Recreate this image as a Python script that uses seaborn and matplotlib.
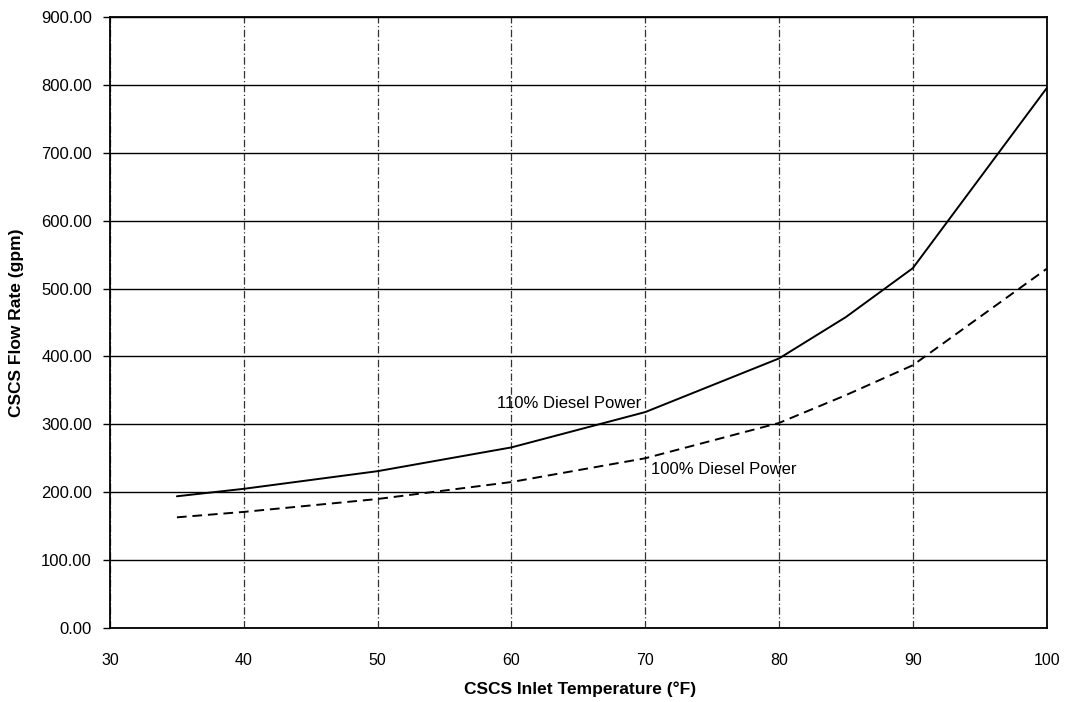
import pandas as pd
import matplotlib.pyplot as plt
import seaborn as sns

# values
temp = [35, 40, 50, 60, 70, 80, 85, 90, 100]
flow_110 = [194, 205, 231, 266, 318, 397, 458, 530, 795]
flow_100 = [163, 171, 190, 215, 250, 302, 343, 387, 529]
series_names = ["110% Diesel Power", "100% Diesel Power"]
x_ticks = [30, 40, 50, 60, 70, 80, 90, 100]
y_ticks = [0, 100, 200, 300, 400, 500, 600, 700, 800, 900]

df = pd.DataFrame({
    "temp": temp * 2,
    "flow": flow_110 + flow_100,
    "series": [series_names[0]] * len(temp) + [series_names[1]] * len(temp),
})

sns.set_theme(style="white")
plt.rcParams['font.family'] = ['Liberation Sans', 'DejaVu Sans']

fig = plt.figure(figsize=(10.68, 7.02), dpi=100)
ax = fig.add_axes([0.103, 0.1054, 0.877, 0.8705])

sns.lineplot(data=df, x="temp", y="flow", style="series", color="black",
             dashes={series_names[0]: "", series_names[1]: (5, 3)},
             linewidth=1.4, legend=False, ax=ax)

ax.set_xlim(30, 100)
ax.set_ylim(0, 900)
ax.set_xticks(x_ticks)
ax.set_yticks(y_ticks)
ax.set_yticklabels([f"{v:.2f}" for v in y_ticks])

# gridlines: solid horizontal, dash-dot vertical
ax.yaxis.grid(True, color="black", linewidth=1.0, linestyle="-")
ax.xaxis.grid(True, color="#333333", linewidth=0.9, linestyle=(0, (6, 2, 1, 2)))
for s in ax.spines.values():
    s.set_color("black")
    s.set_linewidth(1.3)

ax.tick_params(axis="y", left=True, length=5, width=1, color="black", labelsize=12, pad=8)
ax.tick_params(axis="x", bottom=False, labelsize=11.5, pad=12)
for lab in ax.get_yticklabels() + ax.get_xticklabels():
    lab.set_color("black")

ax.set_xlabel("CSCS Inlet Temperature (°F)", fontsize=12.5, fontweight="bold", color="black")
ax.set_ylabel("CSCS Flow Rate (gpm)", fontsize=12.5, fontweight="bold", color="black")
ax.xaxis.set_label_coords(0.502, -0.088)
ax.yaxis.set_label_coords(-0.092, 0.5)

ax.text(69.74, 330, series_names[0], ha="right", va="center", fontsize=12, color="black")
ax.text(70.45, 234, series_names[1], ha="left", va="center", fontsize=12, color="black")

fig.savefig("out.png", dpi=100)
